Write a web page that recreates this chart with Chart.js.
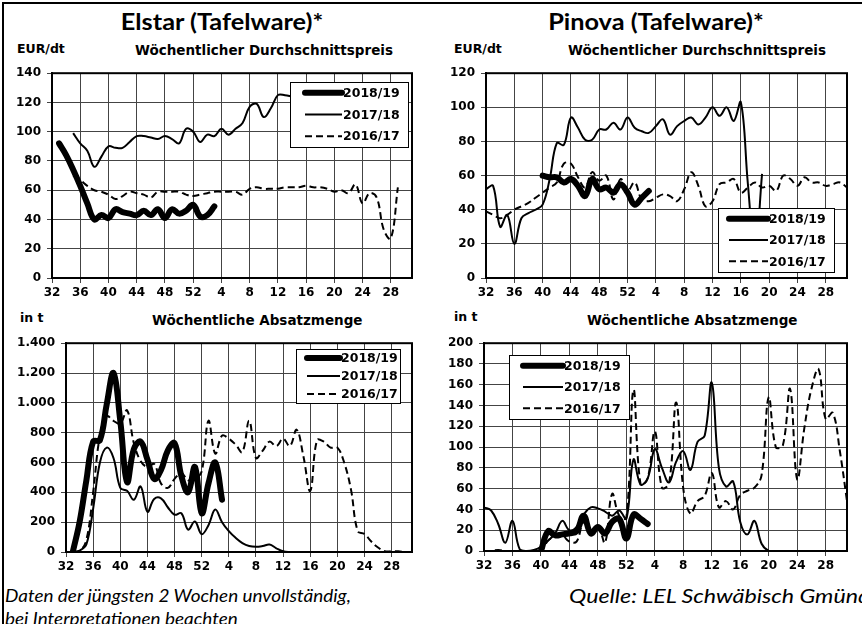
<!DOCTYPE html>
<html>
<head>
<meta charset="utf-8">
<title>Elstar / Pinova</title>
<script src="https://cdn.jsdelivr.net/npm/chart.js"></script>
<style>
  body { margin: 0; width: 862px; height: 624px; overflow: hidden; background: #fff; position: relative; }
  .frame { position: absolute; left: 2px; top: 2px; width: 900px; height: 700px; border-left: 2px solid #000; border-top: 2px solid #000; }
  .txt { position: absolute; white-space: nowrap; color: #000; }
  .title { font: bold 22px Lato, sans-serif; line-height: 22px; transform: scaleX(1.15); transform-origin: center; text-align: center; width: 300px; }
  .lab { font: bold 12.5px "DejaVu Sans", sans-serif; line-height: 14px; }
  .sub { font: bold 13.5px "DejaVu Sans", sans-serif; line-height: 15px; }
  .note { font: italic 18px Lato, sans-serif; line-height: 22px; transform: scaleX(1.05); transform-origin: left; }
  .src { font: italic 20px Lato, sans-serif; line-height: 22px; transform: scaleX(1.16); transform-origin: left; }
  canvas { position: absolute; }
</style>
</head>
<body>
<div class="frame"></div>

<div class="txt title" style="left:72px; top:11px;">Elstar (Tafelware)*</div>
<div class="txt title" style="left:506px; top:11px;">Pinova (Tafelware)*</div>

<div class="txt lab" style="left:17px; top:42px;">EUR/dt</div>
<div class="txt sub" style="left:135px; top:43px;">Wöchentlicher Durchschnittspreis</div>
<div class="txt lab" style="left:454px; top:42px;">EUR/dt</div>
<div class="txt sub" style="left:568px; top:43px;">Wöchentlicher Durchschnittspreis</div>

<div class="txt lab" style="left:20px; top:311px;">in t</div>
<div class="txt sub" style="left:152px; top:313px;">Wöchentliche Absatzmenge</div>
<div class="txt lab" style="left:454px; top:310px;">in t</div>
<div class="txt sub" style="left:587px; top:313px;">Wöchentliche Absatzmenge</div>

<div class="txt note" style="left:5px; top:584px;">Daten der jüngsten 2 Wochen unvollständig,</div>
<div class="txt note" style="left:5px; top:607px;">bei Interpretationen beachten</div>
<div class="txt src" style="left:569px; top:584px;">Quelle: LEL Schwäbisch Gmünd</div>

<canvas id="c1" width="426" height="252" style="left:4px; top:60px;"></canvas>
<canvas id="c2" width="430" height="252" style="left:432px; top:60px;"></canvas>
<canvas id="c3" width="426" height="250" style="left:4px; top:330px;"></canvas>
<canvas id="c4" width="430" height="250" style="left:432px; top:330px;"></canvas>

<script>
// Kalenderwochen 32..52, 1..31
const weeks = ['32','33','34','35','36','37','38','39','40','41','42','43','44','45','46','47','48','49','50','51','52',
  '1','2','3','4','5','6','7','8','9','10','11','12','13','14','15','16','17','18','19','20','21','22','23','24','25','26','27','28','29','30','31'];
const seasons = ['2018/19', '2017/18', '2016/17'];

// Elstar - Preis EUR/dt
const elstarPreis1819 = [null,92,84,74,63,51,40,43,41,47,45,44,43,46,43,47,41,47,44,46,50,
  42,43,49,null,null,null,null,null,null,null,null,null,null,null,null,null,null,null,null,null,null,null,null,null,null,null,null,null,null,null,null];
const elstarPreis1718 = [null,null,null,99,92,87,76,83,90,89,89,93,97,97,96,95,97,95,92,102,100,
  93,98,97,102,98,102,106,117,119,110,116,125,125,124,null,null,null,null,null,null,null,null,null,null,null,null,null,null,null,null,null];
const elstarPreis1617 = [null,null,null,70,67,63,60,59,57,54,56,59,58,57,55,59,59,59,59,57,56,
  57,58,59,59,59,59,57,61,62,61,61,61,62,62,62,63,62,62,61,59,60,58,64,51,58,55,33,27,62,null,null];

// Pinova - Preis EUR/dt
const pinovaPreis1819 = [null,null,null,null,null,null,null,null,60,59,59,56,58,54,48,58,52,53,50,55,50,
  43,47,51,null,null,null,null,null,null,null,null,null,null,null,null,null,null,null,null,null,null,null,null,null,null,null,null,null,null,null,null];
const pinovaPreis1718 = [52,54,30,37,20,35,38,40,43,58,79,78,94,88,81,81,87,87,91,87,94,
  88,86,85,89,93,84,89,92,94,90,94,100,95,100,92,103,55,15,61,null,null,null,null,null,null,null,null,null,null,null,null];
const pinovaPreis1617 = [39,37,35,37,40,42,44,47,50,53,56,67,67,59,53,62,57,60,46,58,51,
  56,46,45,47,49,48,45,52,62,54,42,45,55,56,58,50,53,56,53,54,51,60,58,54,59,56,56,54,55,56,53];

// Elstar - Absatzmenge t
const elstarMenge1819 = [null,0,200,480,740,750,990,1200,880,470,690,740,620,490,550,680,730,510,400,570,260,
  460,600,350,null,null,null,null,null,null,null,null,null,null,null,null,null,null,null,null,null,null,null,null,null,null,null,null,null,null,null,null];
const elstarMenge1718 = [0,0,10,50,290,600,700,630,430,410,350,440,270,355,360,300,250,260,150,205,120,
  180,285,200,140,95,60,40,35,40,50,25,5,0,0,0,0,0,0,0,0,0,0,0,0,0,0,0,0,0,0,0];
const elstarMenge1617 = [null,0,5,80,400,780,910,880,860,950,730,610,570,590,460,430,490,530,480,490,540,
  880,660,780,760,720,670,880,630,680,740,710,760,710,820,640,410,750,740,700,700,600,420,140,120,70,30,5,5,5,0,0];

// Pinova - Absatzmenge t
const pinovaMenge1819 = [null,null,null,null,null,null,null,null,0,19,15,16,17,19,34,17,23,17,28,31,12,
  35,31,26,null,null,null,null,null,null,null,null,null,null,null,null,null,null,null,null,null,null,null,null,null,null,null,null,null,null,null,null];
const pinovaMenge1718 = [42,39,26,8,29,2,0,1,4,10,17,29,20,23,35,42,41,38,34,39,31,
  88,64,70,98,80,66,86,96,78,105,111,162,80,62,67,28,16,29,7,0,0,0,0,0,0,0,0,0,0,0,0];
const pinovaMenge1617 = [0,0,1,0,0,0,0,0,0,10,14,15,9,9,28,20,24,8,55,34,32,
  155,64,70,115,61,65,143,60,36,48,53,75,42,48,40,54,58,61,73,148,100,102,156,69,118,156,175,127,133,96,48];

const yTicksPreisElstar = { max: 140, step: 20 };
const yTicksPreisPinova = { max: 120, step: 20 };
const yTicksMengeElstar = { max: 1400, step: 200 };
const yTicksMengePinova = { max: 200, step: 20 };

Chart.defaults.font.family = '"DejaVu Sans", sans-serif';
Chart.defaults.font.weight = 'bold';
Chart.defaults.font.size = 12;
Chart.defaults.color = '#000';

function deNum(v) {
  if (v >= 1000) return Math.floor(v / 1000) + '.' + String(v % 1000).padStart(3, '0');
  return String(v);
}

// Rahmen um die Zeichenfläche + Legende im Diagramm
const panelDecor = {
  id: 'panelDecor',
  afterDatasetsDraw(chart, args, opts) {
    const ctx = chart.ctx, a = chart.chartArea, b = opts.box;
    ctx.save();
    ctx.fillStyle = '#fff';
    ctx.fillRect(b.x, b.y, b.w, b.h);
    ctx.strokeStyle = '#000';
    ctx.lineWidth = 1;
    ctx.strokeRect(b.x + 0.5, b.y + 0.5, b.w, b.h);
    chart.data.datasets.forEach((ds, i) => {
      const y = b.y + b.h * (2 * i + 1) / 6;
      ctx.beginPath();
      ctx.lineWidth = ds.borderWidth;
      ctx.setLineDash(ds.borderDash || []);
      ctx.lineCap = ds.borderCapStyle || 'butt';
      ctx.moveTo(b.x + b.lx, y);
      ctx.lineTo(b.x + b.lx + b.len, y);
      ctx.stroke();
      ctx.setLineDash([]);
      ctx.fillStyle = '#000';
      ctx.font = 'bold 12.5px "DejaVu Sans"';
      ctx.textBaseline = 'middle';
      ctx.fillText(ds.label, b.x + b.lx + b.len + 1, y + 1);
    });
    ctx.lineWidth = 2;
    ctx.lineCap = 'butt';
    ctx.strokeRect(a.left, a.top, a.right - a.left, a.bottom - a.top);
    ctx.restore();
  }
};

function makeChart(id, cont, area, yt, s1819, s1718, s1617, box) {
  const yWidth = area.l - cont.x;
  const xHeight = 26;
  new Chart(document.getElementById(id), {
    type: 'line',
    data: {
      labels: weeks,
      datasets: [
        { label: seasons[0], data: s1819, borderColor: '#000', borderWidth: 6, borderCapStyle: 'round', borderJoinStyle: 'round', pointRadius: 0, tension: 0.4 },
        { label: seasons[1], data: s1718, borderColor: '#000', borderWidth: 2, pointRadius: 0, tension: 0.4 },
        { label: seasons[2], data: s1617, borderColor: '#000', borderWidth: 2, borderDash: [7, 4], pointRadius: 0, tension: 0.4 }
      ]
    },
    options: {
      responsive: false,
      animation: false,
      events: [],
      layout: {
        padding: {
          left: 0,
          top: area.t - cont.y,
          right: cont.x + cont.w - area.r,
          bottom: cont.y + cont.h - area.b - xHeight
        }
      },
      plugins: {
        legend: { display: false },
        tooltip: { enabled: false },
        panelDecor: { box: box }
      },
      scales: {
        x: {
          type: 'category',
          grid: { color: c => (c.index % 4 === 0 ? '#444' : 'rgba(0,0,0,0)'), lineWidth: 1, tickLength: 5 },
          border: { color: '#000', width: 2 },
          ticks: { autoSkip: false, maxRotation: 0, minRotation: 0, padding: 3,
                   callback: (v, i) => (i % 4 === 0 ? weeks[i] : '') },
          afterFit: s => { s.height = xHeight; }
        },
        y: {
          min: 0, max: yt.max,
          grid: { color: '#444', lineWidth: 1, tickLength: 5 },
          border: { color: '#000', width: 2 },
          ticks: { stepSize: yt.step, padding: 6, callback: v => deNum(v) },
          afterFit: s => { s.width = yWidth; }
        }
      }
    },
    plugins: [panelDecor]
  });
}

makeChart('c1', { x: 4, y: 60, w: 426, h: 252 }, { l: 52, t: 73, r: 412, b: 278 }, yTicksPreisElstar,
  elstarPreis1819, elstarPreis1718, elstarPreis1617, { x: 286, y: 22, w: 118, h: 65, lx: 15, len: 37 });
makeChart('c2', { x: 432, y: 60, w: 430, h: 252 }, { l: 486, t: 73, r: 847, b: 278 }, yTicksPreisPinova,
  pinovaPreis1819, pinovaPreis1718, pinovaPreis1617, { x: 286, y: 148, w: 116, h: 64, lx: 11, len: 39 });
makeChart('c3', { x: 4, y: 330, w: 426, h: 250 }, { l: 66, t: 342, r: 412, b: 552 }, yTicksMengeElstar,
  elstarMenge1819, elstarMenge1718, elstarMenge1617, { x: 292, y: 19, w: 104, h: 54, lx: 11, len: 33 });
makeChart('c4', { x: 432, y: 330, w: 430, h: 250 }, { l: 484, t: 341, r: 847, b: 551 }, yTicksMengePinova,
  pinovaMenge1819, pinovaMenge1718, pinovaMenge1617, { x: 77, y: 25, w: 120, h: 64, lx: 14, len: 40 });
</script>
</body>
</html>
